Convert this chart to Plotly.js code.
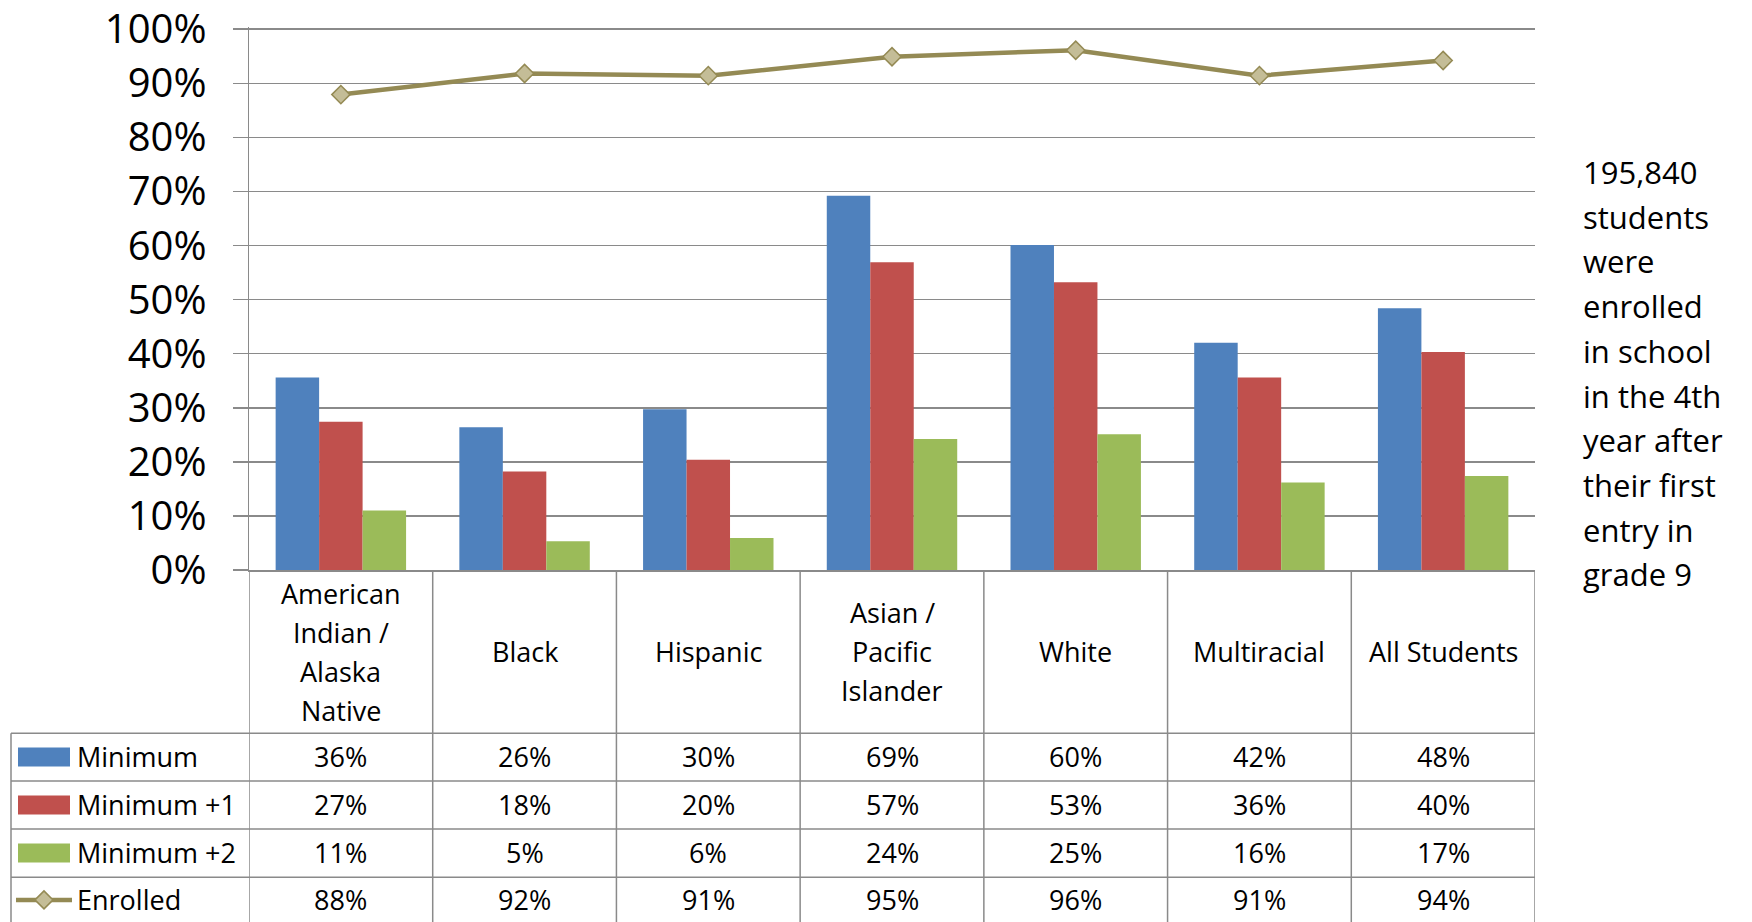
<!DOCTYPE html>
<html>
<head>
<meta charset="utf-8">
<script src="https://cdn.plot.ly/plotly-3.0.1.min.js"></script>
<style>html,body{margin:0;padding:0;background:#fff;}#chart{width:1752px;height:922px;}</style>
</head>
<body>
<div id="chart"></div>
<script>
// ---- data ----
var categories = ['American Indian / Alaska Native', 'Black', 'Hispanic', 'Asian / Pacific Islander', 'White', 'Multiracial', 'All Students'];
var headerLabels = ['American<br>Indian /<br>Alaska<br>Native', 'Black', 'Hispanic', 'Asian /<br>Pacific<br>Islander', 'White', 'Multiracial', 'All Students'];
var minimum = [35.6, 26.4, 29.7, 69.2, 60.1, 42.0, 48.4];
var minimumPlus1 = [27.4, 18.2, 20.4, 56.9, 53.2, 35.6, 40.3];
var minimumPlus2 = [11.0, 5.3, 5.9, 24.2, 25.1, 16.2, 17.4];
var enrolled = [87.9, 91.8, 91.4, 94.9, 96.1, 91.4, 94.2];
var seriesNames = ['Minimum', 'Minimum +1', 'Minimum +2', 'Enrolled'];
var yTicks = [0, 10, 20, 30, 40, 50, 60, 70, 80, 90, 100];
var yTickLabels = ['0%', '10%', '20%', '30%', '40%', '50%', '60%', '70%', '80%', '90%', '100%'];
var noteLines = ['195,840', 'students', 'were', 'enrolled', 'in school', 'in the 4th', 'year after', 'their first', 'entry in', 'grade 9'];

// ---- styling ----
var C_BLUE = '#4F81BD', C_RED = '#C0504D', C_GREEN = '#9BBB59', C_OLIVE = '#948A54', C_DIAMOND = '#C4BD97';
var GRID = '#8A8A8A';
var FONT = 'Open Sans, Noto Sans, sans-serif';

var W = 1752, H = 922;
var YMAX = 100.4;                       // tiny headroom so the 100% grid line is kept
var B = 570, TOP100 = 29;
var PX_PER_UNIT = (B - TOP100) / 100;
var L = 249, R = 1535, T = B - YMAX * PX_PER_UNIT;
function px(x) { return (x - L) / (R - L); }
function py(y) { return (B - y) / (B - T); }

var traces = [
  { type: 'bar', name: seriesNames[0], x: categories, y: minimum, marker: { color: C_BLUE }, hoverinfo: 'skip' },
  { type: 'bar', name: seriesNames[1], x: categories, y: minimumPlus1, marker: { color: C_RED }, hoverinfo: 'skip' },
  { type: 'bar', name: seriesNames[2], x: categories, y: minimumPlus2, marker: { color: C_GREEN }, hoverinfo: 'skip' },
  { type: 'scatter', mode: 'lines+markers', name: seriesNames[3], x: categories, y: enrolled,
    line: { color: C_OLIVE, width: 4.5 },
    marker: { symbol: 'diamond', size: 14, color: C_DIAMOND, line: { color: C_OLIVE, width: 1.5 } }, hoverinfo: 'skip' }
];

var shapes = [];
var annotations = [];
var LW = 1.5;
var tableBottom = py(930);
// vertical column lines
for (var k = 0; k <= categories.length; k++) {
  shapes.push({ type: 'line', xref: 'x', yref: 'paper', x0: k - 0.5, x1: k - 0.5, y0: 0, y1: tableBottom,
    line: { color: GRID, width: LW } });
}
// horizontal row lines
var rowLines = [733.3, 781, 829, 877.3];
rowLines.forEach(function (yy) {
  shapes.push({ type: 'line', xref: 'paper', yref: 'paper', x0: px(11), x1: 1, y0: py(yy), y1: py(yy),
    line: { color: GRID, width: LW } });
});
// left border of legend column
shapes.push({ type: 'line', xref: 'paper', yref: 'paper', x0: px(11), x1: px(11), y0: py(733.3), y1: tableBottom,
  line: { color: GRID, width: LW } });

// header labels (one annotation per line for Excel-like line spacing)
var HEAD_LINE = 39;
categories.forEach(function (c, i) {
  var lines = headerLabels[i].split('<br>');
  var n = lines.length;
  lines.forEach(function (t, j) {
    var yc = 652 + (j - (n - 1) / 2) * HEAD_LINE;
    annotations.push({ xref: 'x', yref: 'paper', x: c, y: py(yc), text: t, showarrow: false,
      xanchor: 'center', yanchor: 'middle', font: { family: FONT, size: 27, color: '#000' } });
  });
});

// table values
var rowCenters = [757, 805, 853, 900];
var rowData = [minimum, minimumPlus1, minimumPlus2, enrolled];
rowData.forEach(function (arr, r) {
  arr.forEach(function (v, i) {
    annotations.push({ xref: 'x', yref: 'paper', x: categories[i], y: py(rowCenters[r]), text: Math.round(v) + '%',
      showarrow: false, xanchor: 'center', yanchor: 'middle', font: { family: FONT, size: 27, color: '#000' } });
  });
  annotations.push({ xref: 'paper', yref: 'paper', x: px(75), y: py(rowCenters[r]), text: seriesNames[r],
    showarrow: false, xanchor: 'left', yanchor: 'middle', font: { family: FONT, size: 27, color: '#000' } });
});

// legend keys
var swatchColors = [C_BLUE, C_RED, C_GREEN];
swatchColors.forEach(function (col, r) {
  shapes.push({ type: 'rect', xref: 'paper', yref: 'paper', x0: px(18), x1: px(70),
    y0: py(rowCenters[r] + 9.5), y1: py(rowCenters[r] - 9.5), fillcolor: col, line: { width: 0 } });
});
var ey = rowCenters[3];
shapes.push({ type: 'line', xref: 'paper', yref: 'paper', x0: px(16), x1: px(72), y0: py(ey), y1: py(ey),
  line: { color: C_OLIVE, width: 4.5 } });
var dx = 44, dr = 9;
shapes.push({ type: 'path', xref: 'paper', yref: 'paper',
  path: 'M ' + px(dx - dr) + ' ' + py(ey) + ' L ' + px(dx) + ' ' + py(ey - dr) + ' L ' + px(dx + dr) + ' ' + py(ey) +
        ' L ' + px(dx) + ' ' + py(ey + dr) + ' Z',
  fillcolor: C_DIAMOND, line: { color: C_OLIVE, width: 1.5 } });

// side note
noteLines.forEach(function (t, i) {
  annotations.push({ xref: 'paper', yref: 'paper', x: px(1581), y: py(172 + 44.7 * i), text: t, showarrow: false,
    xanchor: 'left', yanchor: 'middle', align: 'left', font: { family: FONT, size: 31, color: '#000' } });
});

var layout = {
  width: W, height: H,
  margin: { l: L, r: W - R, t: T, b: H - B, pad: 0 },
  paper_bgcolor: '#fff', plot_bgcolor: '#fff',
  showlegend: false,
  barmode: 'group', bargap: 0.29, bargroupgap: 0,
  xaxis: { type: 'category', range: [-0.5, 6.5], showticklabels: false, ticks: '', showgrid: false,
    showline: true, linecolor: GRID, linewidth: LW, zeroline: false, fixedrange: true },
  yaxis: { range: [0, YMAX], tickmode: 'array', tickvals: yTicks, ticktext: yTickLabels,
    showgrid: true, gridcolor: GRID, gridwidth: LW, ticklabeloverflow: 'allow',
    ticks: 'outside', ticklen: 15, tickcolor: GRID, tickwidth: LW, showline: true, linecolor: GRID, linewidth: LW,
    zeroline: false, ticklabelstandoff: 18, tickfont: { family: FONT, size: 40, color: '#000' }, fixedrange: true },
  shapes: shapes,
  annotations: annotations,
  font: { family: FONT }
};

Plotly.newPlot('chart', traces, layout, { displayModeBar: false, staticPlot: true });
</script>
</body>
</html>
